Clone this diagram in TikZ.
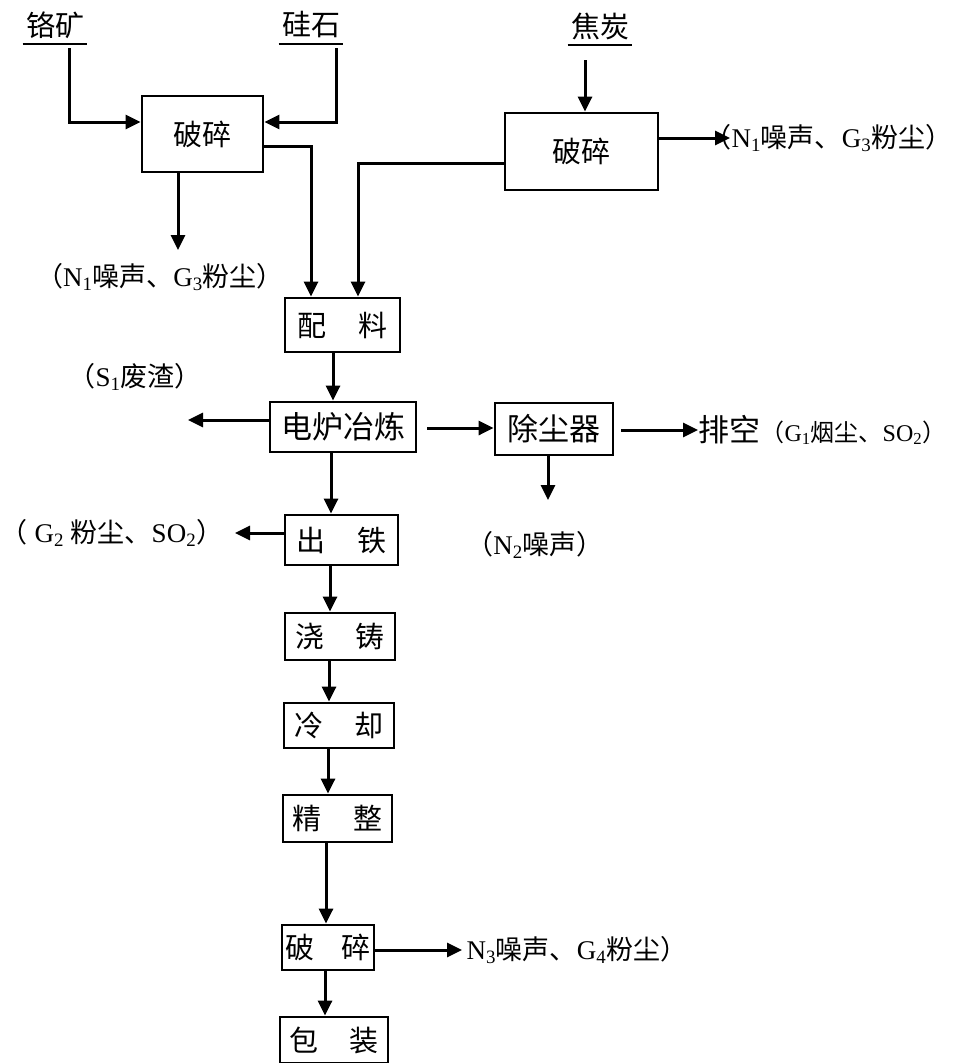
\documentclass[tikz,border=0pt]{standalone}
\usepackage{fontspec}
\setmainfont{Liberation Serif}
\newfontfamily\cjk{Noto Sans CJK SC}
\usetikzlibrary{arrows.meta}
\newcommand\zw[1]{{\cjk #1}}
\begin{document}
\begin{tikzpicture}[x=1pt,y=-1pt,
  line width=3pt,
  arr/.style={-{Triangle[length=15pt,width=14pt]}},
  box/.style={draw, line width=2.8pt, inner sep=0pt, font=\cjk\fontsize{29}{31}\selectfont},
  bigbox/.style={box, font=\cjk\fontsize{31}{33}\selectfont},
  src/.style={inner sep=0pt, font=\cjk\fontsize{29}{31}\selectfont},
  lab/.style={inner sep=0pt, font=\fontsize{27}{29}\selectfont}]
\useasboundingbox (0,0) rectangle (960,1063);
\fill[white] (0,0) rectangle (960,1063);

% source materials
\node[src] (ore) at (55,25) {铬矿};
\node[src] (si) at (311,25) {硅石};
\node[src] (coke) at (600,26) {焦炭};
\foreach \n in {ore,si,coke}
  \draw[line width=2.2pt] ([xshift=-2pt,yshift=-4pt]\n.south west) -- ([xshift=1pt,yshift=-4pt]\n.south east);

% boxes
\node[box, minimum width=121pt, minimum height=76pt] (crushA) at (202.5,134) {破碎};
\node[box, minimum width=153pt, minimum height=77pt] (crushB) at (581.5,151.5) {破碎};
\node[box, minimum width=115pt, minimum height=54pt] (peiliao) at (342.5,325) {配\hspace{1.1em}料};
\node[bigbox, minimum width=146pt, minimum height=50pt] (dianlu) at (343,427) {电炉冶炼};
\node[bigbox, minimum width=118pt, minimum height=52pt] (chuchen) at (554,429) {除尘器};
\node[box, minimum width=113pt, minimum height=50pt] (chutie) at (341.5,540) {出\hspace{1.1em}铁};
\node[box, minimum width=110pt, minimum height=47pt] (jiaozhu) at (340,636.5) {浇\hspace{1.1em}铸};
\node[box, minimum width=110pt, minimum height=45pt] (lengque) at (339,725.5) {冷\hspace{1.1em}却};
\node[box, minimum width=109pt, minimum height=47pt] (jingzheng) at (337.5,818.5) {精\hspace{1.1em}整};
\node[box, minimum width=92pt, minimum height=45pt] (posui) at (328,947.5) {破\hspace{0.9em}碎};
\node[box, minimum width=108pt, minimum height=46pt] (baozhuang) at (334,1040) {包\hspace{1.1em}装};

% labels
\node[lab] (lblA) at (160,277) {\zw{（}N\textsubscript{1}\zw{噪声、}G\textsubscript{3}\zw{粉尘）}};
\node[lab, anchor=west] (lblB) at (703,138) {\zw{（}N\textsubscript{1}\zw{噪声、}G\textsubscript{3}\zw{粉尘）}};
\node[lab] (lblS) at (135,377) {\zw{（}S\textsubscript{1}\zw{废渣）}};
\node[lab] (lblG2) at (112,533) {\zw{（} G\textsubscript{2} \zw{粉尘、}SO\textsubscript{2}\zw{）}};
\node[lab, anchor=west, font=\fontsize{24}{26}\selectfont] (lblEx) at (697,430) {\zw{\fontsize{31}{33}\selectfont 排空}\zw{（}G\textsubscript{1}\zw{烟尘、}SO\textsubscript{2}\zw{）}};
\node[lab] (lblN2) at (535,545) {\zw{（}N\textsubscript{2}\zw{噪声）}};
\node[lab, anchor=west] (lblN3) at (465,950) {N\textsubscript{3}\zw{噪声、}G\textsubscript{4}\zw{粉尘）}};

% free ends
\coordinate (oreIn) at (69,48);
\coordinate (siIn) at (336,48);
\coordinate (cokeIn) at (585,60);
\coordinate (n1a) at (178,250);
\coordinate (n1b) at (730,138);
\coordinate (s1end) at (188,420);
\coordinate (exEnd) at (698,430);
\coordinate (n2end) at (548,500);
\coordinate (g2end) at (235,533);
\coordinate (n3end) at (462,950);

% connectors
\draw[arr] (oreIn) |- ([yshift=12pt]crushA.west);
\draw[arr] (siIn) |- ([yshift=12pt]crushA.east);
\draw[arr] ([yshift=-12pt]crushA.east) -| ([xshift=-31.5pt]peiliao.north);
\draw[arr] (crushA.south -| n1a) -- (n1a);
\draw[arr] (cokeIn) -- (cokeIn |- crushB.north);
\draw[arr] (crushB.east |- n1b) -- (n1b);
\draw[arr] ([yshift=-11.5pt]crushB.west) -| ([xshift=15.5pt]peiliao.north);

\path ([xshift=-9.5pt]peiliao.south) coordinate (p1);
\draw[arr] (p1) -- (p1 |- dianlu.north);
\draw[arr] (dianlu.west |- s1end) -- (s1end);
\draw[arr] ([xshift=10pt,yshift=-1pt]dianlu.east) -- ([yshift=-1pt]dianlu.east -| chuchen.west);
\draw[arr] ([xshift=7pt]chuchen.east |- exEnd) -- (exEnd);
\draw[arr] (chuchen.south -| n2end) -- (n2end);

\path ([xshift=-12pt]dianlu.south) coordinate (p2);
\draw[arr] (p2) -- (p2 |- chutie.north);
\draw[arr] ([yshift=7pt]chutie.west) -- (g2end);
\path ([xshift=-11.5pt]chutie.south) coordinate (p3);
\draw[arr] (p3) -- (p3 |- jiaozhu.north);
\path ([xshift=-11pt]jiaozhu.south) coordinate (p4);
\draw[arr] (p4) -- (p4 |- lengque.north);
\path ([xshift=-11pt]lengque.south) coordinate (p5);
\draw[arr] (p5) -- (p5 |- jingzheng.north);
\path ([xshift=-11.5pt]jingzheng.south) coordinate (p6);
\draw[arr] (p6) -- (p6 |- posui.north);
\draw[arr] ([yshift=-2.5pt]posui.east) -- (n3end);
\path ([xshift=-3pt]posui.south) coordinate (p7);
\draw[arr] (p7) -- (p7 |- baozhuang.north);
\end{tikzpicture}
\end{document}
